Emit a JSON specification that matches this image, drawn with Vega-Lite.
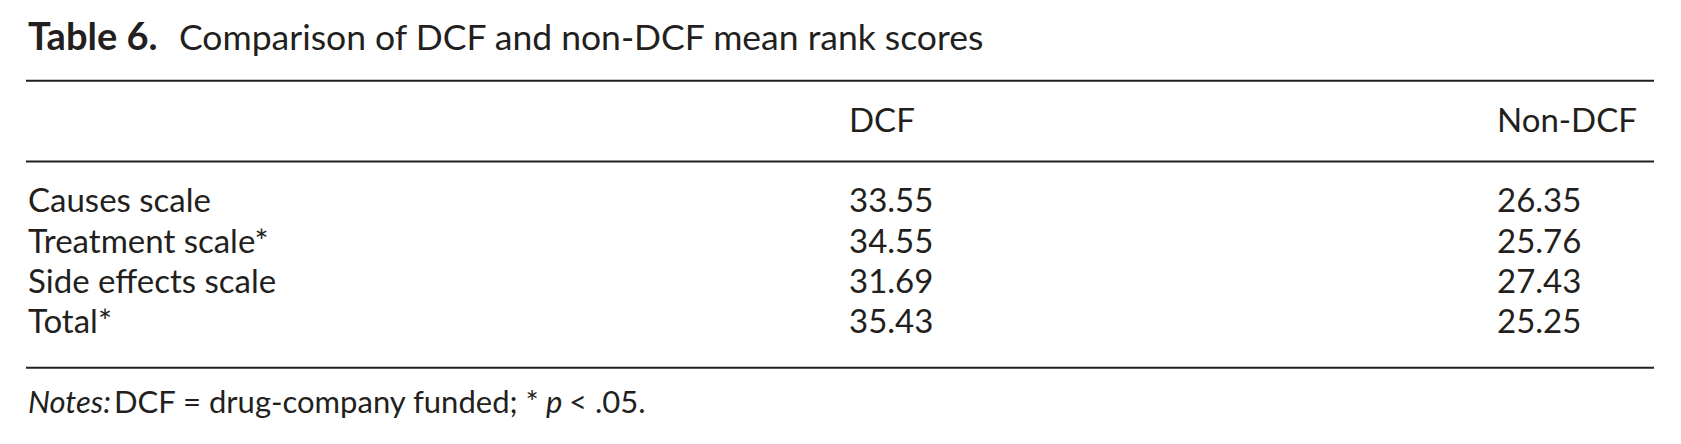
{
  "$schema": "https://vega.github.io/schema/vega-lite/v6.json",
  "width": 1681,
  "height": 444,
  "autosize": {"type": "fit", "contains": "padding"},
  "padding": {"left": 25, "right": 26, "top": 0, "bottom": 0},
  "background": "white",
  "config": {
    "view": {"stroke": null},
    "text": {"font": "Lato", "fontSize": 33, "color": "#231f20", "baseline": "alphabetic", "align": "left", "dy": 10.5},
    "rule": {"color": "#231f20", "strokeWidth": 2}
  },
  "datasets": {
    "cells": [
      {"row": "header", "col": "DCF", "text": "DCF"},
      {"row": "header", "col": "Non-DCF", "text": "Non-DCF"},
      {"row": "r1", "col": "label", "text": "Causes scale"},
      {"row": "r1", "col": "DCF", "text": "33.55"},
      {"row": "r1", "col": "Non-DCF", "text": "26.35"},
      {"row": "r2", "col": "label", "text": "Treatment scale*"},
      {"row": "r2", "col": "DCF", "text": "34.55"},
      {"row": "r2", "col": "Non-DCF", "text": "25.76"},
      {"row": "r3", "col": "label", "text": "Side effects scale"},
      {"row": "r3", "col": "DCF", "text": "31.69"},
      {"row": "r3", "col": "Non-DCF", "text": "27.43"},
      {"row": "r4", "col": "label", "text": "Total*"},
      {"row": "r4", "col": "DCF", "text": "35.43"},
      {"row": "r4", "col": "Non-DCF", "text": "25.25"}
    ],
    "rules": [{"row": "rule1"}, {"row": "rule2"}, {"row": "rule3"}],
    "captions": [
      {"row": "title", "col": "label", "part": "lead", "text": "Table 6."},
      {"row": "title", "col": "label", "part": "body", "text": "Comparison of DCF and non-DCF mean rank scores"},
      {"row": "notes", "col": "label", "part": "lead", "text": "Notes:"},
      {"row": "notes", "col": "label", "part": "body", "text": "DCF = drug-company funded; *"},
      {"row": "notes", "col": "label", "part": "p", "text": "p"},
      {"row": "notes", "col": "label", "part": "tail", "text": "< .05."}
    ]
  },
  "encoding": {
    "y": {
      "field": "row",
      "type": "ordinal",
      "scale": {"type": "point", "domain": ["title", "rule1", "header", "rule2", "r1", "r2", "r3", "r4", "rule3", "notes"], "padding": 1.064},
      "axis": null
    }
  },
  "layer": [
    {
      "data": {"name": "rules"},
      "transform": [{"filter": "datum.row !== 'rule3'"}],
      "mark": {"type": "rule"},
      "encoding": {}
    },
    {
      "data": {"name": "rules"},
      "transform": [{"filter": "datum.row === 'rule3'"}],
      "mark": {"type": "rule", "yOffset": 4.5},
      "encoding": {}
    },
    {
      "data": {"name": "cells"},
      "transform": [{"filter": "datum.col !== 'DCF'"}],
      "mark": {"type": "text"},
      "encoding": {
        "x": {"field": "col", "type": "ordinal", "scale": {"type": "point", "domain": ["label", "DCF", "Non-DCF"], "range": [2, 1471], "padding": 0}, "axis": null},
        "text": {"field": "text"}
      }
    },
    {
      "data": {"name": "cells"},
      "transform": [{"filter": "datum.col === 'DCF'"}],
      "mark": {"type": "text", "dx": 86.5},
      "encoding": {
        "x": {"field": "col", "type": "ordinal", "axis": null},
        "text": {"field": "text"}
      }
    },
    {
      "data": {"name": "captions"},
      "transform": [{"filter": "datum.row === 'title' && datum.part === 'lead'"}],
      "mark": {"type": "text", "fontWeight": "bold", "fontSize": 38, "dy": 9.6},
      "encoding": {"x": {"field": "col", "type": "ordinal", "axis": null}, "text": {"field": "text"}}
    },
    {
      "data": {"name": "captions"},
      "transform": [{"filter": "datum.row === 'title' && datum.part === 'body'"}],
      "mark": {"type": "text", "fontSize": 35.5, "dx": 151, "dy": 9.6},
      "encoding": {"x": {"field": "col", "type": "ordinal", "axis": null}, "text": {"field": "text"}}
    },
    {
      "data": {"name": "captions"},
      "transform": [{"filter": "datum.row === 'notes' && datum.part === 'lead'"}],
      "mark": {"type": "text", "fontStyle": "italic", "fontSize": 31, "dy": 9.6},
      "encoding": {"x": {"field": "col", "type": "ordinal", "axis": null}, "text": {"field": "text"}}
    },
    {
      "data": {"name": "captions"},
      "transform": [{"filter": "datum.row === 'notes' && datum.part === 'body'"}],
      "mark": {"type": "text", "fontSize": 31, "dx": 86, "dy": 9.6},
      "encoding": {"x": {"field": "col", "type": "ordinal", "axis": null}, "text": {"field": "text"}}
    },
    {
      "data": {"name": "captions"},
      "transform": [{"filter": "datum.row === 'notes' && datum.part === 'p'"}],
      "mark": {"type": "text", "fontStyle": "italic", "fontSize": 31, "dx": 518, "dy": 9.6},
      "encoding": {"x": {"field": "col", "type": "ordinal", "axis": null}, "text": {"field": "text"}}
    },
    {
      "data": {"name": "captions"},
      "transform": [{"filter": "datum.row === 'notes' && datum.part === 'tail'"}],
      "mark": {"type": "text", "fontSize": 31, "dx": 541, "dy": 9.6},
      "encoding": {"x": {"field": "col", "type": "ordinal", "axis": null}, "text": {"field": "text"}}
    }
  ]
}
